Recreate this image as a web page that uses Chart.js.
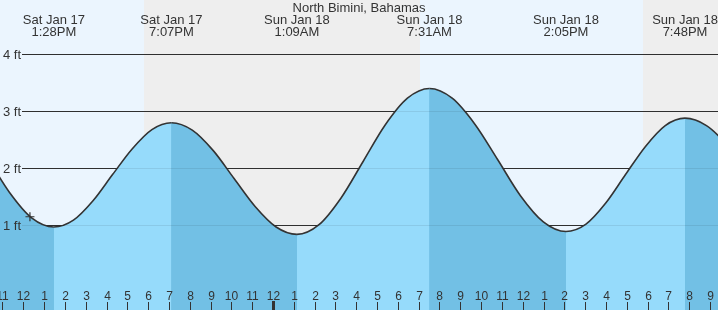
<!DOCTYPE html>
<html>
<head>
<meta charset="utf-8">
<script src="https://cdn.jsdelivr.net/npm/chart.js@4.4.1/dist/chart.umd.min.js"></script>
<style>
  html, body { margin: 0; padding: 0; background: #fff; }
  #wrap { width: 718px; height: 310px; position: relative; }
</style>
</head>
<body>
<div id="wrap"><canvas id="chart-marea"></canvas></div>
<script>
// horas contadas desde el sabado 00:00
const horasCurva = [9.20, 10.27, 11.33, 12.40, 14.41, 15.35, 16.29, 17.23, 18.18, 20.12, 21.13, 22.13, 23.14, 24.15,
                    26.21, 27.27, 28.33, 29.39, 30.46, 32.61, 33.71, 34.80, 35.89, 36.99, 39.04, 39.99, 40.94,
                    41.89, 42.85, 44.83, 45.87, 46.90];
const piesCurva = [2.79, 2.19, 1.58, 1.13, 1.09, 1.43, 1.89, 2.34, 2.68, 2.67, 2.31, 1.82, 1.33, 0.97,
                   1.01, 1.48, 2.12, 2.76, 3.23, 3.23, 2.77, 2.15, 1.52, 1.06, 1.02, 1.39, 1.89,
                   2.38, 2.75, 2.75, 2.39, 1.89];

// pleamares y bajamares
const horasExtremo = [13.47, 19.12, 25.15, 31.52, 38.08, 43.80];
const piesExtremo = [0.97, 2.80, 0.84, 3.40, 0.89, 2.88];
const diasExtremo = ['Sat Jan 17', 'Sat Jan 17', 'Sun Jan 18', 'Sun Jan 18', 'Sun Jan 18', 'Sun Jan 18'];
const textoExtremo = ['1:28PM', '7:07PM', '1:09AM', '7:31AM', '2:05PM', '7:48PM'];

// dia / noche
const diaInicio = [0, 31.06];
const diaFin = [17.80, 41.78];

const nivelesPies = [1, 2, 3, 4];
const horaActual = 12.32;
const alturaActual = 1.15;

const X_MIN = 10.881, X_MAX = 45.384;
const Y_MIN = -0.486, Y_MAX = 4.953;

const COLOR_DIA = '#ebf5fe';
const COLOR_NOCHE = '#eeeeee';
const COLOR_SUBIENDO = '#96dbfb';
const COLOR_BAJANDO = '#72c0e5';
const FUENTE = '"Liberation Sans", Arial, sans-serif';

const puntos = horasCurva.map((h, i) => ({ x: h, y: piesCurva[i] }))
    .concat(horasExtremo.map((h, i) => ({ x: h, y: piesExtremo[i] })))
    .sort((a, b) => a.x - b.x);

const lineasGrid = (ctx, a, y, color) => {
    ctx.strokeStyle = color;
    ctx.lineWidth = 1;
    nivelesPies.forEach(v => {
        const py = Math.round(y.getPixelForValue(v)) + 0.5;
        ctx.beginPath();
        ctx.moveTo(22, py);
        ctx.lineTo(a.right, py);
        ctx.stroke();
    });
};

const pluginMarea = {
    id: 'marea',
    beforeDatasetsDraw(chart) {
        const { ctx, chartArea: a, scales: { x, y } } = chart;
        ctx.save();
        ctx.fillStyle = COLOR_NOCHE;
        ctx.fillRect(a.left, a.top, a.width, a.height);
        ctx.fillStyle = COLOR_DIA;
        diaInicio.forEach((t, i) => {
            const x0 = Math.round(Math.max(a.left, x.getPixelForValue(t)));
            const x1 = Math.round(Math.min(a.right, x.getPixelForValue(diaFin[i])));
            ctx.fillRect(x0, a.top, x1 - x0, a.height);
        });
        lineasGrid(ctx, a, y, '#333');
        ctx.restore();
    },
    afterDatasetsDraw(chart) {
        const { ctx, chartArea: a, scales: { x, y } } = chart;
        ctx.save();
        // lineas tenues sobre el relleno
        lineasGrid(ctx, a, y, 'rgba(0,0,0,0.08)');

        ctx.fillStyle = '#333';
        ctx.font = '13px ' + FUENTE;
        ctx.textAlign = 'left';
        ctx.textBaseline = 'alphabetic';
        nivelesPies.forEach(v => {
            ctx.fillText(`${v} ft`, 3, y.getPixelForValue(v) + 5);
        });

        ctx.textAlign = 'center';
        ctx.fillText('North Bimini, Bahamas', (a.left + a.right) / 2, 12);
        horasExtremo.forEach((h, i) => {
            const px = x.getPixelForValue(h);
            ctx.fillText(diasExtremo[i], px, 24);
            ctx.fillText(textoExtremo[i], px, 36);
        });

        // eje de horas
        ctx.font = '12px ' + FUENTE;
        for (let h = Math.ceil(X_MIN); h <= Math.floor(X_MAX); h++) {
            const px = Math.round(x.getPixelForValue(h));
            if (h % 24 === 0) {
                ctx.fillRect(px - 1, 301, 3, 9);
            } else {
                ctx.fillRect(px, 302, 1, 8);
            }
            ctx.fillText(`${h % 12 || 12}`, px + 0.5, 300);
        }
        ctx.restore();
    }
};

new Chart(document.getElementById('chart-marea').getContext('2d'), {
    type: 'line',
    data: {
        datasets: [{
            label: 'Ahora',
            data: [{ x: horaActual, y: alturaActual }],
            showLine: false,
            fill: false,
            pointStyle: 'cross',
            pointRadius: 4.5,
            pointBorderColor: '#333',
            pointBorderWidth: 1.2,
            order: -1
        }, {
            label: 'Marea (ft)',
            data: puntos,
            borderColor: '#333',
            borderWidth: 1.6,
            backgroundColor: COLOR_SUBIENDO,
            fill: 'start',
            pointRadius: 0,
            cubicInterpolationMode: 'monotone',
            segment: {
                backgroundColor: c => c.p1.parsed.y < c.p0.parsed.y ? COLOR_BAJANDO : COLOR_SUBIENDO
            },
            order: 1
        }, {
            // relleno base para que no quede costura entre tramos
            label: 'base',
            data: puntos,
            borderWidth: 0,
            backgroundColor: COLOR_BAJANDO,
            fill: 'start',
            pointRadius: 0,
            cubicInterpolationMode: 'monotone',
            order: 2
        }]
    },
    options: {
        responsive: true,
        maintainAspectRatio: false,
        animation: false,
        events: [],
        layout: { autoPadding: false, padding: 0 },
        plugins: { legend: { display: false }, tooltip: { enabled: false } },
        scales: {
            x: { type: 'linear', min: X_MIN, max: X_MAX, display: false },
            y: { min: Y_MIN, max: Y_MAX, display: false }
        }
    },
    plugins: [pluginMarea]
});
</script>
</body>
</html>
